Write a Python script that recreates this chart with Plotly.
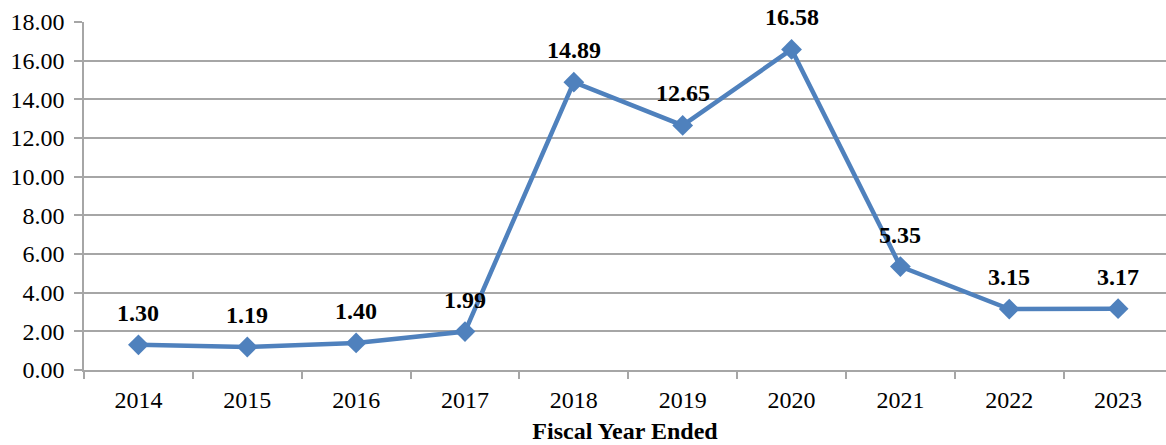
import plotly.graph_objects as go

years = ["2014", "2015", "2016", "2017", "2018", "2019", "2020", "2021", "2022", "2023"]
values = [1.30, 1.19, 1.40, 1.99, 14.89, 12.65, 16.58, 5.35, 3.15, 3.17]
y_ticks = [0, 2, 4, 6, 8, 10, 12, 14, 16, 18]

line_color = "#4F81BD"
grid_color = "#A6A6A6"
font_family = '"Liberation Serif", "Times New Roman", serif'

fig = go.Figure()
fig.add_trace(go.Scatter(
    x=years,
    y=values,
    mode="lines+markers",
    line=dict(color=line_color, width=4.5),
    marker=dict(symbol="diamond", size=16, color=line_color),
    cliponaxis=False,
    hoverinfo="x+y",
))

# Value labels above each point (category axis -> position by index)
for i, v in enumerate(values):
    fig.add_annotation(
        x=i, y=v, xref="x", yref="y", text=f"<b>{v:.2f}</b>", showarrow=False,
        yshift=32, font=dict(family=font_family, size=24, color="black"),
    )

fig.update_layout(
    width=1166, height=445,
    margin=dict(l=84, r=0, t=22, b=75),
    paper_bgcolor="white",
    plot_bgcolor="white",
    showlegend=False,
    font=dict(family=font_family, size=24, color="black"),
)

fig.update_xaxes(
    type="category",
    range=[-0.5, 9.44],
    showgrid=False,
    showline=True, linecolor=grid_color, linewidth=1.5,
    ticks="outside", tickson="boundaries", ticklen=7, tickcolor=grid_color, tickwidth=1.5,
    ticklabelstandoff=7,
    tickfont=dict(family=font_family, size=24),
    title=dict(text="<b>Fiscal Year Ended</b>", font=dict(family=font_family, size=24), standoff=11),
)

fig.update_yaxes(
    range=[0, 18],
    tickvals=y_ticks,
    ticktext=[f"{t:.2f}" for t in y_ticks],
    showgrid=True, gridcolor=grid_color, gridwidth=1.5,
    zeroline=False,
    showline=True, linecolor=grid_color, linewidth=1.5,
    ticks="outside", ticklen=8, tickcolor=grid_color, tickwidth=1.5,
    ticklabelstandoff=5,
    tickfont=dict(family=font_family, size=24),
)

fig.write_html("out.html")
